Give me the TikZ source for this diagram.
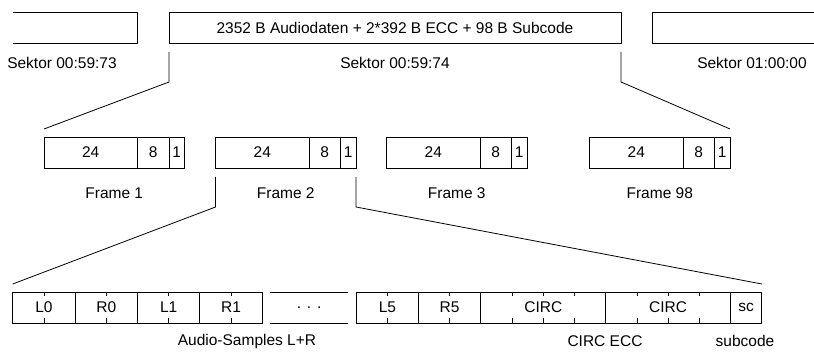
\documentclass[tikz,border=0pt]{standalone}
\usepackage{fontspec}
\setmainfont{Liberation Sans}
\usetikzlibrary{calc}
\begin{document}
\begin{tikzpicture}[x=1pt,y=-1pt,
  txt/.style={font=\fontsize{15.5}{18}\selectfont},
  box/.style={draw, line width=0.9pt, inner sep=0pt, outer sep=0pt, minimum height=31pt, anchor=north west, txt},
  openbox/.style={inner sep=0pt, outer sep=0pt, minimum height=31pt, anchor=north west, txt},
  lbl/.style={inner sep=0pt, txt},
  link/.style={line width=0.8pt},
  tickmark/.style={line width=0.8pt}]
\useasboundingbox (0,0) rectangle (814,352);
% top row
\draw[link] (13,12) -- (137,12) -- (137,43) -- (13,43);
\draw[link] (814,12) -- (652,12) -- (652,43) -- (814,43);
\node[box, minimum width=452pt] (sec) at (169,12) {2352 B Audiodaten + 2*392 B ECC + 98 B Subcode};
\node[lbl] (s73) at (62,63) {Sektor 00:59:73};
\node[lbl] (s74) at (sec.center |- 0,63) {Sektor 00:59:74};
\node[lbl] (s00) at (752,63) {Sektor 01:00:00};
% frames
\foreach \n/\x in {f1/44, f2/215.5, f3/386.5, f98/589.5} {
  \node[box, minimum width=93.5pt] (\n a) at (\x,137) {24};
  \node[box, minimum width=31.5pt] (\n b) at (\n a.north east) {8};
  \node[box, minimum width=15.5pt] (\n c) at (\n b.north east) {1};
  \coordinate (\n m) at ($(\n a.north west)!0.5!(\n c.north east)$);
}
\node[lbl] (lf1) at (f1m |- 0,193) {Frame 1};
\node[lbl] (lf2) at (f2m |- 0,193) {Frame 2};
\node[lbl] (lf3) at (f3m |- 0,193) {Frame 3};
\node[lbl] (lf98) at (f98m |- 0,193) {Frame 98};
% connectors sector -> frames
\coordinate (t1) at (169,52);
\coordinate (t2) at (169,82);
\coordinate (t3) at (44,129);
\coordinate (u1) at (621,52);
\coordinate (u2) at (621,82);
\coordinate (u3) at (f98c.north east |- 0,129);
\draw[link] (t1) -- (t2) -- (t3);
\draw[link] (u1) -- (u2) -- (u3);
% bottom row
\node[box, minimum width=62.4pt] (L0) at (12.7,292) {L0};
\node[box, minimum width=62.4pt] (R0) at (L0.north east) {R0};
\node[box, minimum width=62.4pt] (L1) at (R0.north east) {L1};
\node[box, minimum width=62.4pt] (R1) at (L1.north east) {R1};
\node[openbox, minimum width=78.3pt] (dots) at (270,292) {. . .};
\draw[link] (dots.north west) -- (dots.north east) (dots.south west) -- (dots.south east);
\node[box, minimum width=61.5pt] (L5) at (356.7,292) {L5};
\node[box, minimum width=62.7pt] (R5) at (L5.north east) {R5};
\node[box, minimum width=125pt] (C1) at (R5.north east) {CIRC};
\node[box, minimum width=124.3pt] (C2) at (C1.north east) {CIRC};
\node[box, minimum width=31.7pt] (sc) at (C2.north east) {sc};
\foreach \cn in {L0,R0,L1,R1,L5,R5} {
  \draw[tickmark] (\cn.north) -- ++(0,4.5);
  \draw[tickmark] (\cn.south) -- ++(0,-4.5);
}
\foreach \cn in {C1,C2} {
  \foreach \fr in {0.25,0.5,0.75} {
    \draw[tickmark] ($(\cn.north west)!\fr!(\cn.north east)$) -- ++(0,4.5);
    \draw[tickmark] ($(\cn.south west)!\fr!(\cn.south east)$) -- ++(0,-4.5);
  }
}
\node[lbl] (las) at (247,341) {Audio-Samples L+R};
\node[lbl] (lecc) at (605,341) {CIRC ECC};
\node[lbl] (lsc) at (745,341) {subcode};
% connectors frame 2 -> bottom
\coordinate (v1) at (f2a.north west |- 0,177);
\coordinate (v2) at (f2a.north west |- 0,207);
\coordinate (v3) at (L0.north west |- 0,284);
\coordinate (w1) at (f2c.north east |- 0,177);
\coordinate (w2) at (f2c.north east |- 0,207);
\coordinate (w3) at (sc.north east |- 0,284);
\draw[link] (v1) -- (v2) -- (v3);
\draw[link] (w1) -- (w2) -- (w3);
\end{tikzpicture}
\end{document}
